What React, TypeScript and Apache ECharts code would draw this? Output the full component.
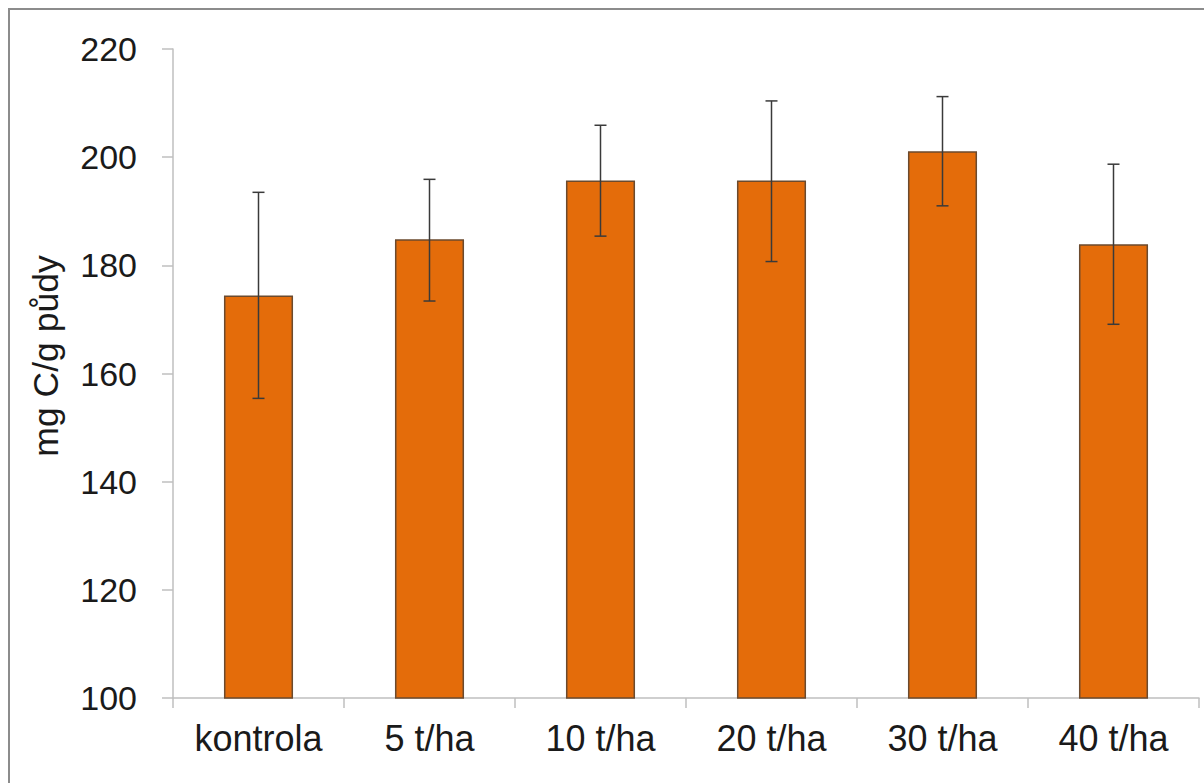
import React, { useEffect, useRef } from "react";
import * as echarts from "echarts";

const categories = ["kontrola", "5 t/ha", "10 t/ha", "20 t/ha", "30 t/ha", "40 t/ha"];
const means = [174.4, 184.8, 195.7, 195.7, 201.1, 183.9];
const errLow = [155.4, 173.4, 185.4, 180.7, 191.0, 169.1];
const errHigh = [193.5, 195.9, 205.9, 210.4, 211.2, 198.7];
const yTitle = "mg C/g půdy";

export default function App() {
  const ref = useRef<HTMLDivElement>(null);
  useEffect(() => {
    if (!ref.current) return;
    const chart = echarts.init(ref.current, null, { renderer: "svg" });
    const font = "'Liberation Sans', Arial, sans-serif";
    chart.setOption({
      animation: false,
      backgroundColor: "#ffffff",
      grid: { left: 173, right: 5, top: 49, bottom: 85, containLabel: false },
      xAxis: {
        type: "category",
        data: categories,
        axisLine: { show: true, lineStyle: { color: "#bfbfbf", width: 1.5 } },
        axisTick: { show: true, length: 10, alignWithLabel: false, lineStyle: { color: "#bfbfbf", width: 1.5 } },
        axisLabel: { color: "#1a1a1a", fontSize: 36, fontFamily: font, margin: 22, interval: 0 },
        splitLine: { show: false },
      },
      yAxis: {
        type: "value",
        min: 100,
        max: 220,
        interval: 20,
        axisLine: { show: true, lineStyle: { color: "#bfbfbf", width: 1.5 } },
        axisTick: { show: true, length: 11, inside: false, lineStyle: { color: "#bfbfbf", width: 1.5 } },
        axisLabel: { color: "#1a1a1a", fontSize: 34, fontFamily: font, margin: 36 },
        splitLine: { show: false },
      },
      graphic: [
        {
          type: "rect",
          shape: { x: 9, y: 9, width: 1400, height: 1000 },
          style: { fill: "none", stroke: "#8c8c8c", lineWidth: 2 },
          silent: true,
        },
        {
          type: "text",
          x: 46,
          y: 356,
          rotation: Math.PI / 2,
          style: {
            text: yTitle,
            fontSize: 35.5,
            fontFamily: font,
            fill: "#1a1a1a",
            align: "center",
            verticalAlign: "middle",
          },
        },
      ],
      series: [
        {
          type: "bar",
          data: means,
          barWidth: "40.4%",
          itemStyle: { color: "#E46C0A", borderColor: "#6b4a2e", borderWidth: 1.5 },
        },
        {
          type: "custom",
          data: categories.map((_, i) => [i, errLow[i], errHigh[i]]),
          renderItem: (params: any, api: any) => {
            const x = api.value(0);
            const lo = api.coord([x, api.value(1)]);
            const hi = api.coord([x, api.value(2)]);
            const cap = 6;
            const st = { stroke: "#3a3a3a", lineWidth: 1.5 };
            return {
              type: "group",
              children: [
                { type: "line", shape: { x1: hi[0], y1: hi[1], x2: lo[0], y2: lo[1] }, style: st },
                { type: "line", shape: { x1: hi[0] - cap, y1: hi[1], x2: hi[0] + cap, y2: hi[1] }, style: st },
                { type: "line", shape: { x1: lo[0] - cap, y1: lo[1], x2: lo[0] + cap, y2: lo[1] }, style: st },
              ],
            };
          },
          z: 10,
        },
      ],
    });
    return () => chart.dispose();
  }, []);
  return (
    <div
      ref={ref}
      style={{ position: "fixed", left: 0, top: 0, width: 1204, height: 783 }}
    />
  );
}
